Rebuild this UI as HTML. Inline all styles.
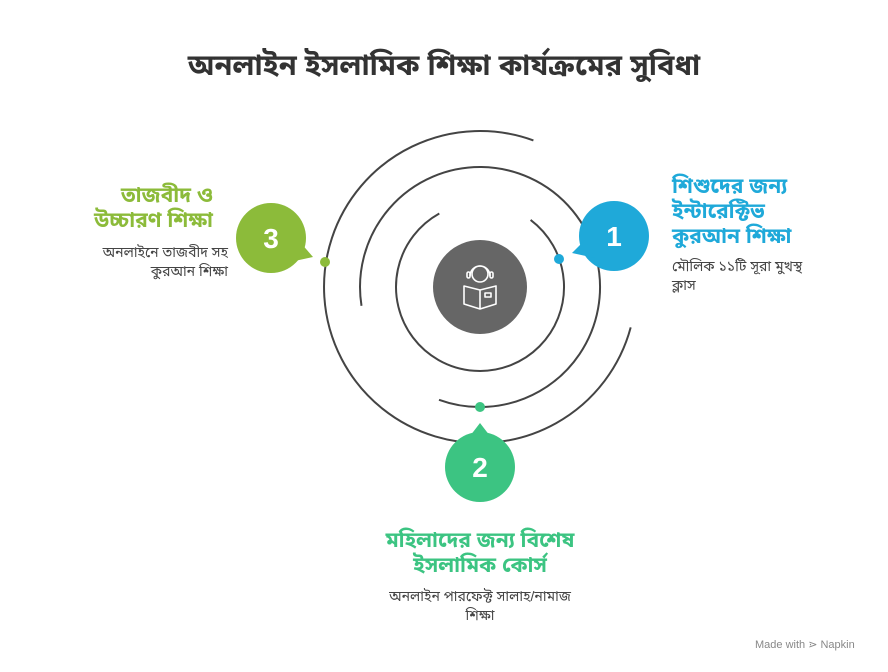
<!DOCTYPE html>
<html><head><meta charset="utf-8"><style>
body{margin:0;width:888px;height:672px;background:#fff;position:relative;overflow:hidden;font-family:"Liberation Sans","Noto Sans Bengali","Lohit Bengali",sans-serif;}
.t{position:absolute;white-space:nowrap;}
.h{font-weight:bold;font-size:21px;line-height:25px;}
.b{font-size:14px;line-height:19px;color:#444;}
</style></head><body>
<svg width="888" height="672" style="position:absolute;left:0;top:0">
<g fill="none" stroke="#444" stroke-width="2">
<path d="M630.7,327.4 A156,156 0 1 1 533.4,140.4"/>
<path d="M361.5,305.8 A120,120 0 1 1 439,399.8"/>
<path d="M530.6,219.9 A84,84 0 1 1 439.3,213.5"/>
</g>
<circle cx="480" cy="287" r="47" fill="#666"/>
<g fill="none" stroke="#fff" stroke-width="1.6" stroke-linejoin="round">
<circle cx="480" cy="274" r="8"/>
<path d="M470,276 a10,10 0 0 1 20,0"/>
<rect x="467" y="272" width="3" height="6" rx="1.5"/><rect x="490" y="272" width="3" height="6" rx="1.5"/>
<path d="M464,286 L480,290 L496,286 L496,304 L480,309 L464,304 Z M480,290 L480,309"/>
<rect x="485" y="293" width="6" height="4"/>
</g>
<circle cx="325" cy="262" r="5" fill="#8cbb3a"/>
<circle cx="559" cy="259" r="5" fill="#1fa9d9"/>
<circle cx="480" cy="407" r="5" fill="#3cc482"/>
<circle cx="614" cy="236" r="35" fill="#1fa9d9"/>
<path d="M585,240 L572,253 L595,258 Z" fill="#1fa9d9"/>
<circle cx="271" cy="238" r="35" fill="#8cbb3a"/>
<path d="M300,242 L313,257 L290,262 Z" fill="#8cbb3a"/>
<circle cx="480" cy="467" r="35" fill="#3cc482"/>
<path d="M470,436 L480,423 L490,436 Z" fill="#3cc482"/>
<g fill="#fff" font-family="Liberation Sans" font-weight="bold" font-size="28" text-anchor="middle">
<text x="614" y="246">1</text><text x="271" y="248">3</text><text x="480" y="477">2</text>
</g>
</svg>
<div class="t" style="left:0;width:888px;top:48px;text-align:center;font-weight:bold;font-size:29px;color:#333">অনলাইন ইসলামিক শিক্ষা কার্যক্রমের সুবিধা</div>
<div class="t h" style="right:675px;top:183px;text-align:right;color:#8cbb3a">তাজবীদ ও<br>উচ্চারণ শিক্ষা</div>
<div class="t b" style="right:660px;top:243px;text-align:right">অনলাইনে তাজবীদ সহ<br>কুরআন শিক্ষা</div>
<div class="t h" style="left:672px;top:174px;color:#1fa9d9">শিশুদের জন্য<br>ইন্টারেক্টিভ<br>কুরআন শিক্ষা</div>
<div class="t b" style="left:672px;top:257px">মৌলিক ১১টি সূরা মুখস্থ<br>ক্লাস</div>
<div class="t h" style="left:0;width:960px;top:528px;text-align:center;color:#3cc482">মহিলাদের জন্য বিশেষ<br>ইসলামিক কোর্স</div>
<div class="t b" style="left:0;width:960px;top:587px;text-align:center">অনলাইন পারফেক্ট সালাহ/নামাজ<br>শিক্ষা</div>
<div class="t" style="left:755px;top:638px;font-size:11px;color:#888">Made with ⋗ Napkin</div>
</body></html>
